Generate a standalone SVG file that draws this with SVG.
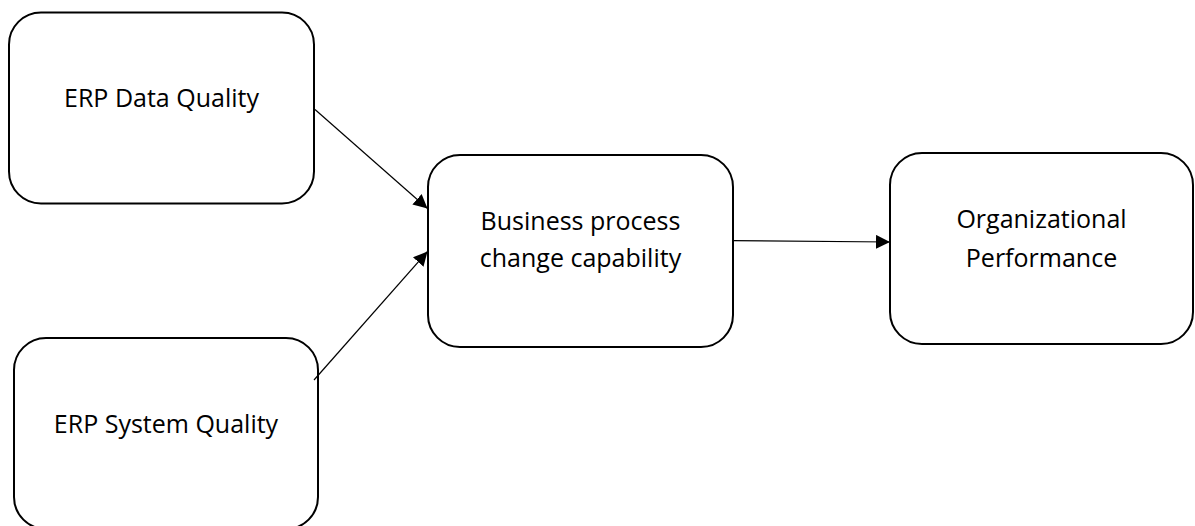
<svg xmlns="http://www.w3.org/2000/svg" width="1195" height="526" viewBox="0 0 1195 526">
  <style>
    .box { fill: #ffffff; stroke: #000000; stroke-width: 2; }
    .label { font-family: "Open Sans", "Liberation Sans", sans-serif; font-size: 25px; fill: #000000; text-anchor: middle; }
    .link { fill: none; stroke: #000000; stroke-width: 1.2; marker-end: url(#arrow); }
  </style>
  <defs>
    <marker id="arrow" markerUnits="userSpaceOnUse" markerWidth="15" markerHeight="15" refX="14" refY="7" orient="auto">
      <path d="M0,0 L14,7 L0,14 Z" fill="#000000"/>
    </marker>
  </defs>
  <rect width="1195" height="526" fill="#ffffff"/>

  <g id="node-erp-data-quality">
    <rect class="box" x="9" y="12.5" width="305" height="191" rx="32" ry="32"/>
    <text class="label" x="161.5" y="106.5">ERP Data Quality</text>
  </g>

  <g id="node-erp-system-quality">
    <rect class="box" x="14" y="338" width="304" height="191" rx="32" ry="32"/>
    <text class="label" x="166" y="432.5">ERP System Quality</text>
  </g>

  <g id="node-business-process">
    <rect class="box" x="428" y="155" width="305" height="192" rx="32" ry="32"/>
    <text class="label" x="580.5" y="229.5">Business process</text>
    <text class="label" x="580.5" y="267">change capability</text>
  </g>

  <g id="node-organizational-performance">
    <rect class="box" x="890" y="153" width="303" height="191" rx="32" ry="32"/>
    <text class="label" x="1041.5" y="227.5">Organizational</text>
    <text class="label" x="1041.5" y="266.5">Performance</text>
  </g>

  <g id="connectors">
    <line class="link" x1="315" y1="109.5" x2="427.5" y2="208.5"/>
    <line class="link" x1="314" y1="380" x2="427.5" y2="251.5"/>
    <line class="link" x1="733" y1="240.7" x2="890" y2="242"/>
  </g>
</svg>
